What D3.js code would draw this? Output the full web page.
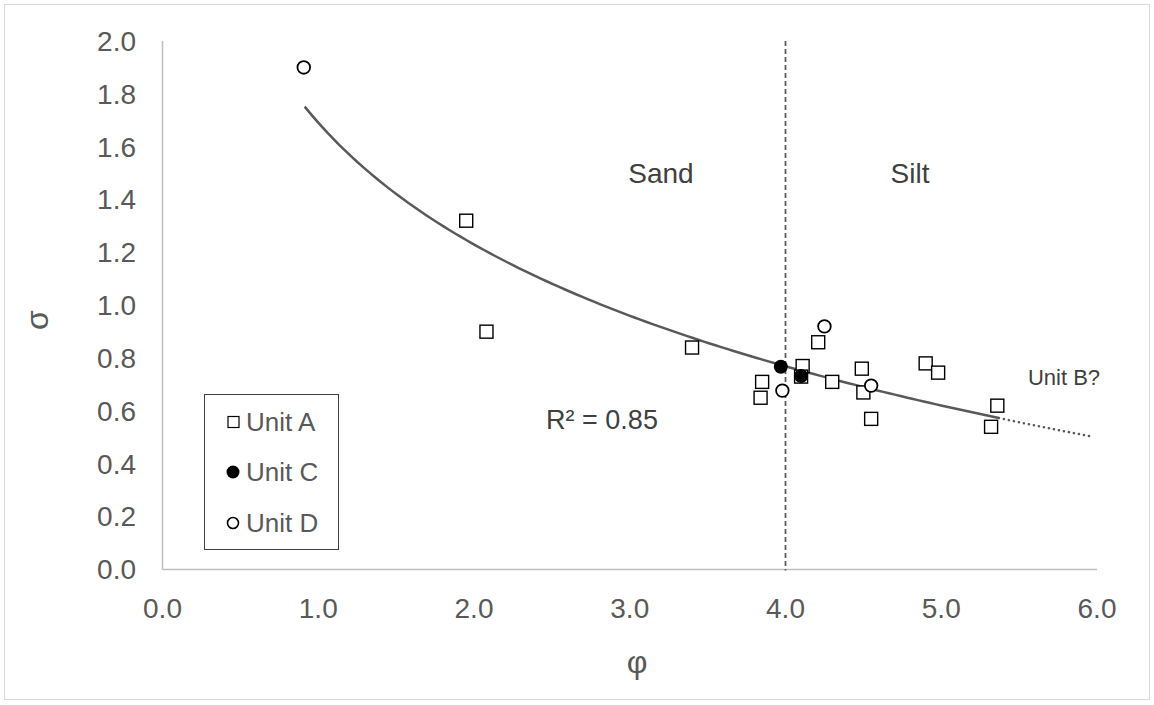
<!DOCTYPE html>
<html lang="en">
<head>
  <title>sigma vs phi</title>
  <script type="text/javascript" src="https://cdnjs.cloudflare.com/ajax/libs/d3/7.8.5/d3.min.js"></script>
  <style>
    body { margin: 0; background: #fff; }
    text { font-family: "Liberation Sans", Arial, sans-serif; }
  </style>
</head>
<body>
  <script type="text/javascript">
    var width = 1154;
    var height = 705;

    // data
    var unitA = [
      [1.95, 1.32], [2.08, 0.90], [3.40, 0.84], [3.85, 0.71], [3.84, 0.65],
      [4.11, 0.77], [4.10, 0.73], [4.21, 0.86], [4.30, 0.71], [4.49, 0.76],
      [4.50, 0.67], [4.55, 0.57], [4.90, 0.78], [4.98, 0.745], [5.36, 0.62],
      [5.32, 0.54]
    ];
    var unitC = [[3.97, 0.767], [4.10, 0.732]];
    var unitD = [[0.907, 1.90], [4.25, 0.92], [3.98, 0.677], [4.55, 0.696]];

    var xTicks = [0, 1, 2, 3, 4, 5, 6];
    var yTicks = [0, 0.2, 0.4, 0.6, 0.8, 1.0, 1.2, 1.4, 1.6, 1.8, 2.0];

    // log trend  y = a + b ln(x), solid over the data, dotted beyond (Unit B?)
    var trendA = 1.691, trendB = -0.665;
    var trendSolid = [0.913, 5.37];
    var trendDotted = [5.37, 5.98];
    var boundary = 4.0;

    var x = d3.scaleLinear().domain([0, 6]).range([162.5, 1097]);
    var y = d3.scaleLinear().domain([0, 2]).range([569.5, 41]);

    var svg = d3.select("body").append("svg")
      .attr("width", width)
      .attr("height", height);

    svg.append("rect")
      .attr("x", 4.5).attr("y", 4.5)
      .attr("width", 1145).attr("height", 695)
      .attr("fill", "#fff").attr("stroke", "#d9d9d9");

    // axes
    svg.append("line")
      .attr("x1", x(0)).attr("x2", x(0)).attr("y1", y(2)).attr("y2", y(0))
      .attr("stroke", "#bfbfbf").attr("stroke-width", 1.5);
    svg.append("line")
      .attr("x1", x(0)).attr("x2", x(6)).attr("y1", y(0)).attr("y2", y(0))
      .attr("stroke", "#bfbfbf").attr("stroke-width", 1.5);

    svg.selectAll(".ytick").data(yTicks).enter().append("text")
      .attr("x", 136).attr("y", function (d) { return y(d); })
      .attr("dy", "0.35em").attr("text-anchor", "end")
      .attr("font-size", 28).attr("fill", "#595959")
      .text(function (d) { return d.toFixed(1); });

    svg.selectAll(".xtick").data(xTicks).enter().append("text")
      .attr("x", function (d) { return x(d); }).attr("y", 608)
      .attr("dy", "0.35em").attr("text-anchor", "middle")
      .attr("font-size", 28).attr("fill", "#595959")
      .text(function (d) { return d.toFixed(1); });

    svg.append("text")
      .attr("x", 637).attr("y", 662).attr("dy", "0.35em")
      .attr("text-anchor", "middle").attr("font-size", 32).attr("fill", "#595959")
      .text("φ");
    svg.append("text")
      .attr("transform", "translate(37,320) rotate(-90)")
      .attr("dy", "0.35em").attr("text-anchor", "middle")
      .attr("font-size", 32).attr("fill", "#595959")
      .text("σ");

    // sand / silt boundary
    svg.append("line")
      .attr("x1", x(boundary)).attr("x2", x(boundary))
      .attr("y1", y(2)).attr("y2", y(0) + 1)
      .attr("stroke", "#595959").attr("stroke-width", 1.75)
      .attr("stroke-dasharray", "5,3");

    svg.append("text").attr("x", 661).attr("y", 173).attr("dy", "0.35em")
      .attr("text-anchor", "middle").attr("font-size", 28).attr("fill", "#404040")
      .text("Sand");
    svg.append("text").attr("x", 910).attr("y", 173).attr("dy", "0.35em")
      .attr("text-anchor", "middle").attr("font-size", 28).attr("fill", "#404040")
      .text("Silt");
    svg.append("text").attr("x", 602).attr("y", 420).attr("dy", "0.35em")
      .attr("text-anchor", "middle").attr("font-size", 27).attr("fill", "#404040")
      .text("R² = 0.85");
    svg.append("text").attr("x", 1064).attr("y", 377).attr("dy", "0.35em")
      .attr("text-anchor", "middle").attr("font-size", 22).attr("fill", "#404040")
      .text("Unit B?");

    // trend line
    var trend = function (v) { return trendA + trendB * Math.log(v); };
    var sample = function (r) {
      var n = 120, out = [];
      for (var i = 0; i <= n; i++) {
        var v = r[0] + (r[1] - r[0]) * i / n;
        out.push([v, trend(v)]);
      }
      return out;
    };
    var line = d3.line()
      .x(function (d) { return x(d[0]); })
      .y(function (d) { return y(d[1]); });

    svg.append("path").datum(sample(trendSolid))
      .attr("d", line).attr("fill", "none")
      .attr("stroke", "#595959").attr("stroke-width", 2.5);
    svg.append("path").datum(sample(trendDotted))
      .attr("d", line).attr("fill", "none")
      .attr("stroke", "#595959").attr("stroke-width", 2.5)
      .attr("stroke-linecap", "round").attr("stroke-dasharray", "0.1,5");

    // points
    svg.selectAll(".ua").data(unitA).enter().append("rect")
      .attr("x", function (d) { return x(d[0]) - 6.5; })
      .attr("y", function (d) { return y(d[1]) - 6.5; })
      .attr("width", 13).attr("height", 13)
      .attr("fill", "#fff").attr("stroke", "#000").attr("stroke-width", 1.4);

    svg.selectAll(".ud").data(unitD).enter().append("circle")
      .attr("cx", function (d) { return x(d[0]); })
      .attr("cy", function (d) { return y(d[1]); })
      .attr("r", 6.3)
      .attr("fill", "#fff").attr("stroke", "#000").attr("stroke-width", 1.8);

    svg.selectAll(".uc").data(unitC).enter().append("circle")
      .attr("cx", function (d) { return x(d[0]); })
      .attr("cy", function (d) { return y(d[1]); })
      .attr("r", 7)
      .attr("fill", "#000");

    // legend
    var lg = svg.append("g");
    lg.append("rect")
      .attr("x", 204.5).attr("y", 394.5).attr("width", 134).attr("height", 155)
      .attr("fill", "#fff").attr("stroke", "#404040").attr("stroke-width", 1);
    var legendItems = ["Unit A", "Unit C", "Unit D"];
    var ly = [422, 472, 523];
    lg.append("rect").attr("x", 228).attr("y", ly[0] - 5.5).attr("width", 11).attr("height", 11)
      .attr("fill", "#fff").attr("stroke", "#000").attr("stroke-width", 1.2);
    lg.append("circle").attr("cx", 233).attr("cy", ly[1]).attr("r", 6.5).attr("fill", "#000");
    lg.append("circle").attr("cx", 233).attr("cy", ly[2]).attr("r", 5.5)
      .attr("fill", "#fff").attr("stroke", "#000").attr("stroke-width", 1.6);
    lg.selectAll(".lt").data(legendItems).enter().append("text")
      .attr("x", 246).attr("y", function (d, i) { return ly[i]; })
      .attr("dy", "0.35em").attr("font-size", 26).attr("fill", "#595959")
      .text(function (d) { return d; });
  </script>
</body>
</html>
